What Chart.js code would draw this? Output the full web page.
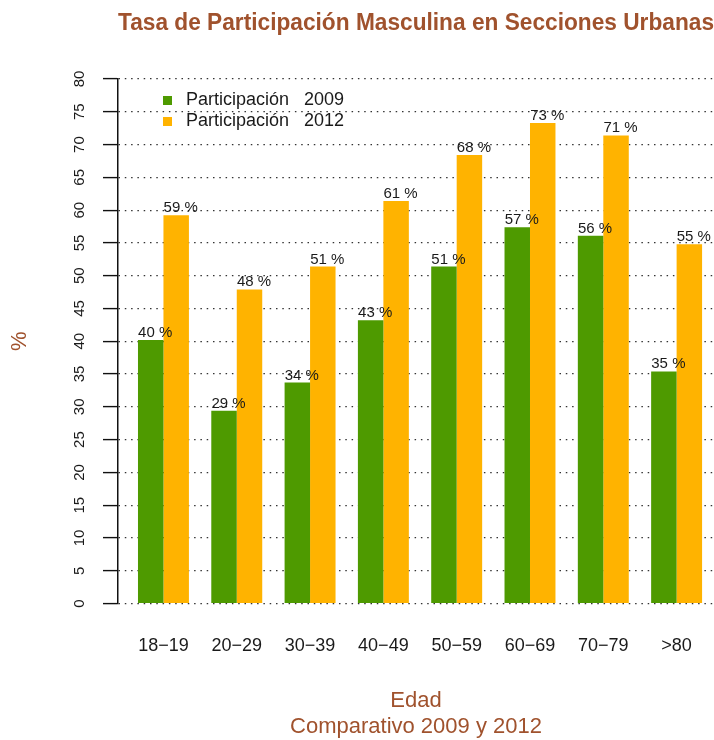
<!DOCTYPE html>
<html>
<head>
<meta charset="utf-8">
<title>Tasa de Participación Masculina</title>
<script src="https://cdn.jsdelivr.net/npm/chart.js@4.4.1/dist/chart.umd.min.js"></script>
<style>
  html, body { margin: 0; padding: 0; background: #fff; }
  #wrap { position: relative; width: 714px; height: 740px; }
</style>
</head>
<body>
<div id="wrap"><canvas id="chart"></canvas></div>
<script>
const categories = ["18\u221219", "20\u221229", "30\u221239", "40\u221249", "50\u221259", "60\u221269", "70\u221279", ">80"];
const seriesLabels = ["Participación   2009", "Participación   2012"];
const values2009 = [40.2, 29.4, 33.7, 43.2, 51.4, 57.4, 56.1, 35.4];
const values2012 = [59.2, 47.9, 51.4, 61.4, 68.4, 73.3, 71.4, 54.8];
const yTicks = [0, 5, 10, 15, 20, 25, 30, 35, 40, 45, 50, 55, 60, 65, 70, 75, 80];

const seriesColors = ["#4e9a00", "#ffb300"];
const titleColor = "#a0522d";
const textColor = "#1a1a1a";

Chart.defaults.font.family = "'Liberation Sans', Arial, Helvetica, sans-serif";
Chart.defaults.color = textColor;

// bars sit on a linear x axis, category i at position i + 1
const toPoints = (values) => values.map((v, i) => ({ x: i + 1, y: v }));

// "40 %" style labels over each bar
const valueLabels = {
  id: "valueLabels",
  afterDatasetsDraw(chart) {
    const { ctx } = chart;
    ctx.save();
    ctx.font = "15px 'Liberation Sans', Arial, sans-serif";
    ctx.fillStyle = textColor;
    ctx.textAlign = "center";
    ctx.textBaseline = "alphabetic";
    chart.data.datasets.forEach((ds, di) => {
      chart.getDatasetMeta(di).data.forEach((bar, i) => {
        ctx.fillText(Math.round(ds.data[i].y) + " %", bar.x + 4.5, bar.y - 3);
      });
    });
    ctx.restore();
  },
};

// legend drawn inside the plot, top left
const insetLegend = {
  id: "insetLegend",
  afterDraw(chart) {
    const { ctx, chartArea } = chart;
    const x = chartArea.left + 45;
    let y = chartArea.top + 21.5;
    ctx.save();
    ctx.font = "18px 'Liberation Sans', Arial, sans-serif";
    ctx.textBaseline = "middle";
    ctx.textAlign = "left";
    chart.data.datasets.forEach((ds) => {
      ctx.fillStyle = ds.backgroundColor;
      ctx.fillRect(x, y - 4.5, 9, 9);
      ctx.fillStyle = textColor;
      ctx.fillText(ds.label, x + 23, y);
      y += 21;
    });
    ctx.restore();
  },
};

const chartConfig = {
  type: "bar",
  data: {
    datasets: [
      { label: seriesLabels[0], data: toPoints(values2009), backgroundColor: seriesColors[0] },
      { label: seriesLabels[1], data: toPoints(values2012), backgroundColor: seriesColors[1] },
    ],
  },
  options: {
    responsive: true,
    maintainAspectRatio: false,
    animation: false,
    layout: { padding: 0 },
    datasets: {
      bar: { categoryPercentage: 0.695, barPercentage: 1, borderWidth: 0 },
    },
    plugins: {
      legend: { display: false },
      tooltip: { enabled: false },
      title: {
        display: true,
        fullSize: false,
        text: "Tasa de Participación Masculina en Secciones Urbanas",
        color: titleColor,
        font: { size: 23, weight: "bold", lineHeight: 1.2 },
        padding: { top: 9.5, bottom: 41.9 },
      },
    },
    scales: {
      x: {
        type: "linear",
        offset: false,
        min: 0.38,
        max: 8.51,
        grid: { display: false, drawTicks: false },
        border: { display: false },
        afterBuildTicks: (scale) => {
          scale.ticks = categories.map((_, i) => ({ value: i + 1 }));
        },
        afterFit: (scale) => {
          scale.height = 136.5;
          scale.paddingLeft = 0;
          scale.paddingRight = 0;
        },
        ticks: {
          padding: 32,
          autoSkip: false,
          maxRotation: 0,
          font: { size: 18 },
          color: textColor,
          callback: (v) => categories[v - 1],
        },
        title: {
          display: true,
          text: ["Edad", "Comparativo 2009 y 2012"],
          color: titleColor,
          font: { size: 22, lineHeight: 1.18 },
          padding: 0,
        },
      },
      y: {
        min: 0,
        max: 80,
        afterBuildTicks: (scale) => {
          scale.ticks = yTicks.map((v) => ({ value: v }));
        },
        afterFit: (scale) => {
          scale.width = 118;
        },
        grid: {
          color: "#333",
          lineWidth: 1.2,
          tickLength: 15,
          tickColor: "#111",
          tickWidth: 1.4,
          tickBorderDash: [],
        },
        border: { display: true, color: "#111", width: 1.5, dash: [1.5, 4.8] },
        ticks: {
          minRotation: 90,
          maxRotation: 90,
          padding: 15,
          crossAlign: "center",
          autoSkip: false,
          font: { size: 15 },
          color: textColor,
        },
        title: {
          display: true,
          text: "%",
          color: titleColor,
          font: { size: 22 },
          padding: { top: 7 },
        },
      },
    },
  },
  plugins: [valueLabels, insetLegend],
};

new Chart(document.getElementById("chart"), chartConfig);
</script>
</body>
</html>
